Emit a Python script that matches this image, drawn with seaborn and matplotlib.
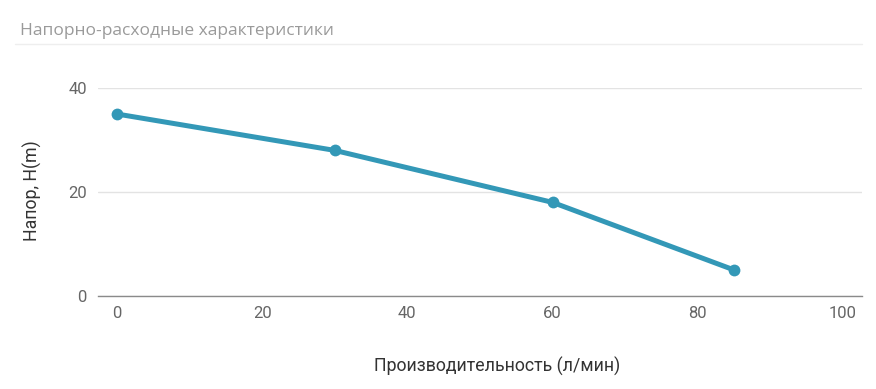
import matplotlib
matplotlib.use("Agg")
import matplotlib.pyplot as plt
import seaborn as sns
import pandas as pd
from matplotlib.lines import Line2D

flow = [0, 30, 60, 85]
head = [35, 28, 18, 5]
x_ticks = [0, 20, 40, 60, 80, 100]
y_ticks = [0, 20, 40]
title = "Напорно-расходные характеристики"
x_label = "Производительность (л/мин)"
y_label = "Напор, H(m)"

df = pd.DataFrame({"flow": flow, "head": head})

sns.set_theme(style="white")
plt.rcParams['font.family'] = ['Roboto', 'DejaVu Sans']

fig = plt.figure(figsize=(8.76, 3.89), dpi=100)
ax = fig.add_axes([98/876, 1-296/389, (862-98)/876, (296-88)/389])

sns.lineplot(data=df, x="flow", y="head", ax=ax, color="#3398b7", linewidth=3.6,
             marker="o", markersize=8.5, markeredgewidth=0, clip_on=False)

ax.set_xlim(-2.6, 102.6)
ax.set_ylim(0, 40)
ax.set_xticks(x_ticks)
ax.set_yticks(y_ticks)
ax.grid(axis="y", color="#e3e3e3", linewidth=1)
ax.set_axisbelow(True)
for s in ["top", "right", "left"]:
    ax.spines[s].set_visible(False)
ax.spines["bottom"].set_color("#8a8a8a")
ax.spines["bottom"].set_linewidth(1)
ax.tick_params(axis="both", length=0, labelsize=12, labelcolor="#666666")
ax.tick_params(axis="x", pad=7)
ax.tick_params(axis="y", pad=8)

ax.set_xlabel(x_label, fontsize=12.8, color="#333333", va="center")
ax.set_ylabel(y_label, fontsize=12.8, color="#333333", va="center")
ax.xaxis.set_label_coords((497-98)/764, (296-366)/208)
ax.yaxis.set_label_coords((32-98)/764, (296-191)/208)

fig.text(20/876, 1-31/389, title, fontsize=12.5, color="#9a9a9a",
         family=["Open Sans", "DejaVu Sans"], va="center", ha="left")
fig.add_artist(Line2D([15/876, 862/876], [1-44/389, 1-44/389], color="#eeeeee", linewidth=1,
                      transform=fig.transFigure))

fig.savefig("out.png", dpi=100, facecolor="white")
